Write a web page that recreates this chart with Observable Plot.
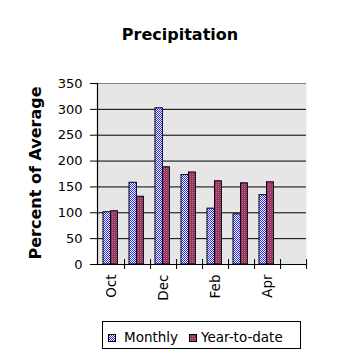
<!DOCTYPE html>
<html>
<head>
<meta charset="utf-8">
<script src="https://cdn.jsdelivr.net/npm/d3@7"></script>
<script src="https://cdn.jsdelivr.net/npm/@observablehq/plot@0.6"></script>
<style>
  html, body { margin: 0; padding: 0; background: white; }
</style>
</head>
<body>
<div id="chart"></div>
<script>
const months = ["Oct", "Nov", "Dec", "Jan", "Feb", "Mar", "Apr", "May"];
const monthly = [101, 158, 302, 173, 108, 97, 134, null];
const yearToDate = [103, 131, 188, 178, 161, 157, 159, null];
const labelledMonths = ["Oct", "Dec", "Feb", "Apr"];
const yTicks = [0, 50, 100, 150, 200, 250, 300, 350];
const gridTicks = [50, 100, 150, 200, 250, 300];
const seriesNames = ["Monthly", "Year-to-date"];

const rows = [];
months.forEach((m, i) => {
  if (monthly[i] != null) rows.push({month: m, series: "Monthly", value: monthly[i]});
  if (yearToDate[i] != null) rows.push({month: m, series: "Year-to-date", value: yearToDate[i]});
});

const W = 358, H = 358;
const mL = 97, mR = 52, mT = 83, mB = 94;
const bw = (W - mL - mR) / months.length;
const font = "'DejaVu Sans', Verdana, sans-serif";

const plot = Plot.plot({
  width: W,
  height: H,
  marginLeft: mL,
  marginRight: mR,
  marginTop: mT,
  marginBottom: mB,
  style: {fontFamily: font, fontSize: "13px", color: "black", background: "white"},
  x: {domain: months, padding: 0, axis: null},
  y: {domain: [0, 350], axis: null},
  marks: [
    Plot.frame({fill: "url(#bgdots)", stroke: "none"}),
    Plot.gridY(gridTicks, {stroke: "black", strokeOpacity: 1, strokeWidth: 1}),
    Plot.ruleY([350], {stroke: "#808080"}),
    Plot.barY(rows.filter(d => d.series === "Monthly"), {
      x: "month", y: "value", fill: "url(#monthlyPat)", stroke: "black", strokeWidth: 1,
      insetLeft: 5, insetRight: bw - 12.5
    }),
    Plot.barY(rows.filter(d => d.series === "Year-to-date"), {
      x: "month", y: "value", fill: "url(#ytdPat)", stroke: "black", strokeWidth: 1,
      insetLeft: 12.5, insetRight: bw - 19.5
    }),
    Plot.ruleY([0], {stroke: "black", strokeWidth: 1.2}),
    Plot.frame({anchor: "left", stroke: "black", strokeWidth: 1.2}),
    Plot.ruleX(months, {x: d => d, y1: 0, y2: 0, insetTop: -5, insetBottom: -5, dx: bw / 2, stroke: "black"}),
    Plot.axisY({ticks: yTicks, tickSize: 7, tickPadding: 8, label: null, fontSize: 13}),
    Plot.axisX({ticks: labelledMonths, tickSize: 0, tickRotate: -90, tickPadding: 10, label: null, fontSize: 13.5})
  ]
});

document.getElementById("chart").appendChild(plot);

const svg = d3.select(plot);
const defs = svg.insert("defs", ":first-child");

const bg = defs.append("pattern").attr("id", "bgdots").attr("patternUnits", "userSpaceOnUse")
  .attr("width", 2).attr("height", 2);
bg.append("rect").attr("width", 2).attr("height", 2).attr("fill", "white");
bg.append("rect").attr("width", 1).attr("height", 1).attr("fill", "#999999");

const mp = defs.append("pattern").attr("id", "monthlyPat").attr("patternUnits", "userSpaceOnUse")
  .attr("width", 2).attr("height", 2);
mp.append("rect").attr("width", 2).attr("height", 2).attr("fill", "white");
mp.append("rect").attr("width", 1).attr("height", 1).attr("fill", "#2a2aff");
mp.append("rect").attr("x", 1).attr("y", 1).attr("width", 1).attr("height", 1).attr("fill", "#2a2aff");

const yp = defs.append("pattern").attr("id", "ytdPat").attr("patternUnits", "userSpaceOnUse")
  .attr("width", 2).attr("height", 2);
yp.append("rect").attr("width", 2).attr("height", 2).attr("fill", "#993366");
yp.append("rect").attr("width", 1).attr("height", 1).attr("fill", "#b0708a");

svg.selectAll("pattern rect").attr("shape-rendering", "crispEdges");

// Title
svg.append("text").attr("x", 180).attr("y", 40)
  .attr("text-anchor", "middle").attr("font-family", font)
  .attr("font-size", 16).attr("font-weight", "bold").attr("fill", "black")
  .text("Precipitation");

// Y-axis label
svg.append("text").attr("transform", "translate(41,173) rotate(-90)")
  .attr("text-anchor", "middle").attr("font-family", font)
  .attr("font-size", 16).attr("font-weight", "bold").attr("fill", "black")
  .text("Percent of Average");

// Legend
const lg = svg.append("g");
lg.append("rect").attr("x", 102.5).attr("y", 321.5).attr("width", 198).attr("height", 27)
  .attr("fill", "white").attr("stroke", "black");
const legendX = [108, 189];
const legendTextX = [124, 201];
const legendFill = ["url(#monthlyPat)", "url(#ytdPat)"];
seriesNames.forEach((name, i) => {
  lg.append("rect").attr("x", legendX[i] + 0.5).attr("y", 334.5).attr("width", 7).attr("height", 7)
    .attr("fill", legendFill[i]).attr("stroke", "black");
  lg.append("text").attr("x", legendTextX[i]).attr("y", 342)
    .attr("text-anchor", "start")
    .attr("font-family", font).attr("font-size", 13.5).attr("fill", "black")
    .text(name);
});
</script>
</body>
</html>
